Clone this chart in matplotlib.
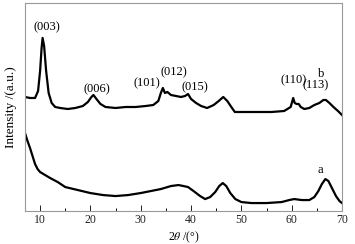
import matplotlib.pyplot as plt
from matplotlib.ticker import MultipleLocator

# 2theta positions and intensities (arbitrary units)
two_theta_b = [7.0, 8.0, 9.0, 9.6, 10.0, 10.3, 10.5, 10.8, 11.2, 11.7, 12.3, 13.0, 14.0,
               15.5, 17.0, 18.5, 19.5, 20.2, 20.6, 21.2, 22.0, 23.0, 25.0, 27.0, 29.0,
               31.0, 32.5, 33.5, 34.0, 34.4, 34.8, 35.3, 36.0, 37.0, 38.0, 38.8, 39.4,
               40.0, 41.0, 42.0, 43.2, 44.5, 45.5, 46.4, 47.2, 48.0, 48.7, 50.0, 53.0,
               56.0, 58.5, 59.8, 60.3, 60.6, 61.0, 61.4, 61.8, 62.5, 63.5, 64.5, 65.5,
               66.3, 66.8, 67.5, 68.3, 69.2, 70.0]
intensity_b = [114, 113, 113, 120, 140, 163, 173, 165, 140, 118, 108, 104, 103,
               102, 103, 105, 109, 114, 116, 112, 107, 104, 103, 104, 104,
               105, 106, 110, 118, 123, 118, 119, 116, 115, 114, 115, 117,
               112, 108, 105, 103, 106, 110, 114, 110, 104, 99, 99, 99,
               99, 100, 104, 113, 108, 107, 107, 104, 102, 103, 106, 108,
               111, 111, 108, 104, 100, 96]

two_theta_a = [7.0, 7.5, 8.0, 8.5, 9.0, 9.5, 10.0, 11.0, 12.0, 13.5, 15.0, 17.5, 20.0,
               22.5, 25.0, 27.5, 30.0, 32.0, 34.0, 36.0, 37.5, 38.5, 39.4, 40.5, 41.8,
               42.8, 43.8, 44.8, 45.6, 46.3, 47.0, 47.8, 48.8, 50.0, 52.0, 55.0, 58.0,
               59.5, 60.5, 62.0, 63.5, 64.5, 65.3, 66.0, 66.7, 67.3, 68.0, 68.8, 69.5, 70.0]
intensity_a = [78, 70, 63, 55, 47, 42, 39, 36, 33, 29, 24, 21, 18,
               16, 15, 16, 18, 20, 22, 25, 26, 25, 24, 20, 15,
               12, 14, 19, 25, 28, 25, 18, 12, 9, 8, 8, 9,
               11, 12, 11, 11, 14, 20, 27, 32, 30, 23, 15, 10, 8]

peak_labels = ["(003)", "(006)", "(101)", "(012)", "(015)", "(110)", "(113)"]
label_theta = [11.4, 21.3, 31.3, 36.6, 40.8, 60.3, 64.7]
label_height = [184, 122, 128, 139, 124, 131, 126]

plt.rcParams["font.family"] = "Liberation Serif"
plt.rcParams["mathtext.fontset"] = "stix"

fig = plt.figure(figsize=(3.55, 2.44), dpi=100)
ax = fig.add_axes([0.0704, 0.135, 0.893, 0.853])

ax.plot(two_theta_b, intensity_b, color="black", lw=1.6)
ax.plot(two_theta_a, intensity_a, color="black", lw=1.6)

for text, x, y in zip(peak_labels, label_theta, label_height):
    ax.text(x, y, text, ha="center", va="center", fontsize=9)
ax.text(65.8, 137, "b", ha="center", va="center", fontsize=9)
ax.text(65.6, 41, "a", ha="center", va="center", fontsize=9)

ax.set_xlim(7, 70)
ax.set_ylim(0, 208)
ax.xaxis.set_major_locator(MultipleLocator(10))
ax.xaxis.set_minor_locator(MultipleLocator(5))
ax.tick_params(axis="x", which="major", direction="in", length=4, width=0.7,
               labelsize=8.5, pad=2, colors="#222222")
ax.tick_params(axis="x", which="minor", direction="in", length=2.5, width=0.7)
ax.set_yticks([])
for spine in ax.spines.values():
    spine.set_color("#999999")
    spine.set_linewidth(0.8)

ax.set_xlabel(r"2$\it{\theta}$ /(°)", fontsize=8.5, labelpad=3)
ax.set_ylabel("Intensity /(a.u.)", fontsize=9.5, labelpad=6)

fig.savefig("out.png", dpi=100)
